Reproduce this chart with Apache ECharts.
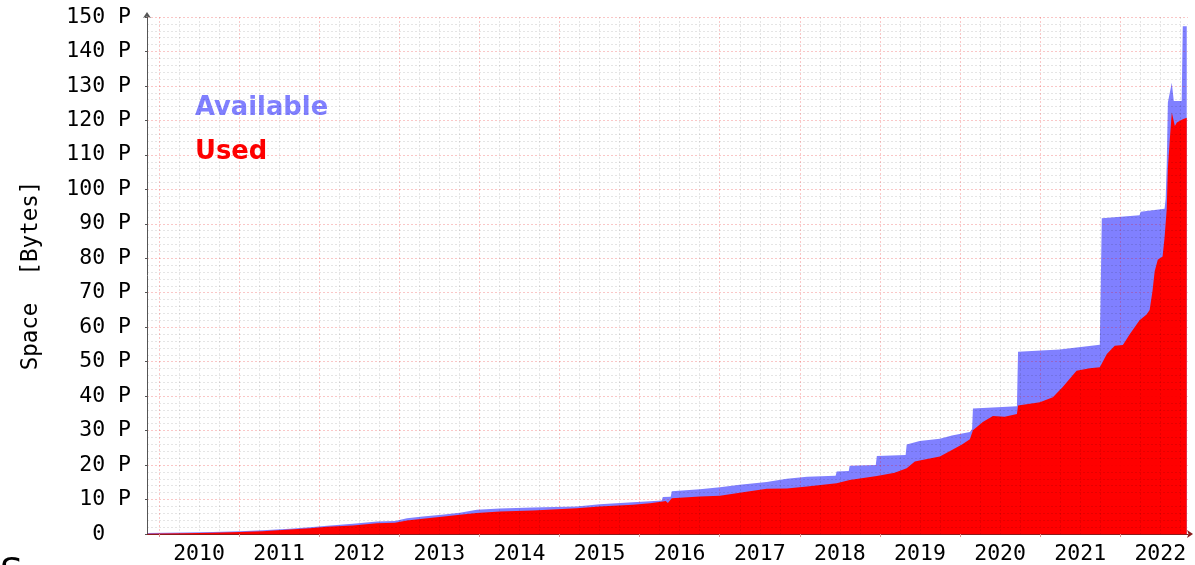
<!DOCTYPE html>
<html>
<head>
<meta charset="utf-8">
<script src="https://cdn.jsdelivr.net/npm/echarts@6/dist/echarts.min.js"></script>
<style>
  html, body { margin: 0; padding: 0; background: #fff; }
  #chart { width: 1195px; height: 565px; }
</style>
</head>
<body>
<div id="chart"></div>
<script>
// space in PB (jumps are given as a pair of close dates)
const availDates = [
  "2009-11-07", "2010-04-28", "2010-09-03", "2011-01-05", "2011-04-18", "2011-08-20",
  "2011-11-20", "2012-02-06", "2012-06-03", "2012-09-21", "2012-12-12", "2013-02-05",
  "2013-04-18", "2013-07-13", "2013-10-04", "2013-12-20", "2014-04-04", "2014-09-02",
  "2015-03-20", "2015-07-03", "2015-12-01", "2016-02-18", "2016-04-11", "2016-04-16",
  "2016-05-22", "2016-05-27", "2016-10-02", "2017-01-02", "2017-04-02", "2017-08-03",
  "2017-11-03", "2018-02-03", "2018-06-13", "2018-06-18", "2018-08-12", "2018-08-16",
  "2018-12-13", "2018-12-18", "2019-04-28", "2019-05-03", "2019-07-01", "2019-10-01",
  "2019-11-25", "2020-02-15", "2020-02-25", "2020-02-29", "2020-09-17", "2020-09-22",
  "2021-03-31", "2021-09-30", "2021-10-04", "2021-10-09", "2022-03-30", "2022-04-04",
  "2022-07-22", "2022-07-27", "2022-08-01", "2022-08-06", "2022-08-15", "2022-08-24",
  "2022-08-28", "2022-09-02", "2022-10-08", "2022-10-13", "2022-10-31"
];
const availValues = [
  0.3, 0.45, 0.6, 0.8, 1.1, 1.5,
  1.95, 2.4, 3.0, 3.6, 3.75, 4.6,
  5.1, 5.6, 6.2, 7.0, 7.4, 7.7,
  8.0, 8.6, 9.2, 9.5, 9.7, 10.7,
  10.8, 12.4, 13.0, 13.6, 14.3, 15.1,
  16.0, 16.6, 16.9, 18.1, 18.3, 19.8,
  20.0, 22.6, 22.9, 26.0, 27.0, 27.6,
  28.6, 29.6, 30.5, 36.4, 37.1, 52.9,
  53.5, 54.9, 55.0, 91.6, 92.5, 93.5,
  94.4, 97.3, 107.4, 125.2, 125.5, 130.9,
  131.4, 125.6, 125.6, 147.3, 147.3
];
const usedDates = [
  "2009-11-07", "2010-04-28", "2010-09-03", "2011-01-05", "2011-04-18", "2011-08-20",
  "2011-11-20", "2012-02-06", "2012-06-03", "2012-09-21", "2012-12-12", "2013-02-05",
  "2013-04-18", "2013-07-13", "2013-10-04", "2013-12-20", "2014-04-04", "2014-09-02",
  "2015-03-20", "2015-07-03", "2015-12-01", "2016-02-18", "2016-04-16", "2016-04-29",
  "2016-05-09", "2016-05-27", "2016-10-02", "2017-01-02", "2017-04-02", "2017-08-03",
  "2017-11-03", "2018-02-03", "2018-06-18", "2018-08-16", "2018-12-18", "2019-03-09",
  "2019-05-03", "2019-06-09", "2019-07-01", "2019-10-01", "2019-11-25", "2020-01-10",
  "2020-02-15", "2020-02-29", "2020-04-14", "2020-05-30", "2020-07-23", "2020-09-17",
  "2020-09-22", "2020-12-31", "2021-02-28", "2021-04-13", "2021-05-15", "2021-06-16",
  "2021-08-15", "2021-09-30", "2021-11-01", "2021-12-07", "2022-01-13", "2022-02-14",
  "2022-03-30", "2022-05-01", "2022-05-15", "2022-05-28", "2022-06-07", "2022-06-21",
  "2022-07-13", "2022-07-22", "2022-08-01", "2022-08-06", "2022-08-15", "2022-08-24",
  "2022-08-28", "2022-09-07", "2022-09-16", "2022-10-13", "2022-10-31"
];
const usedValues = [
  0.05, 0.2, 0.35, 0.55, 0.8, 1.3,
  1.7, 2.1, 2.5, 3.1, 3.3, 3.9,
  4.4, 5.0, 5.6, 6.1, 6.5, 6.8,
  7.5, 8.0, 8.5, 8.9, 9.4, 9.6,
  9.0, 10.4, 10.9, 11.1, 12.0, 13.1,
  13.2, 13.8, 14.7, 15.7, 16.8, 17.8,
  19.1, 21.0, 21.3, 22.5, 24.4, 26.0,
  27.5, 30.1, 32.5, 34.2, 34.0, 34.8,
  37.3, 38.2, 39.7, 42.6, 45.0, 47.4,
  48.1, 48.4, 52.2, 54.6, 54.8, 58.0,
  62.0, 63.7, 65.0, 70.5, 76.2, 79.6,
  80.5, 86.0, 94.4, 106.0, 114.6, 122.3,
  122.0, 118.4, 119.4, 120.3, 120.8
];
const years = [2010, 2011, 2012, 2013, 2014, 2015, 2016, 2017, 2018, 2019, 2020, 2021, 2022];

const xMin = 2009.85;
const xMax = 2022.846;

function decYear(s) {
  const p = s.split("-").map(Number);
  const t0 = Date.UTC(p[0], 0, 1);
  const t1 = Date.UTC(p[0] + 1, 0, 1);
  return p[0] + (Date.UTC(p[0], p[1] - 1, p[2]) - t0) / (t1 - t0);
}

const availData = availDates.map((d, i) => [decYear(d), availValues[i]]);
const usedData = usedDates.map((d, i) => [decYear(d), usedValues[i]]);

// label sits in the middle of each year, grid line on Jan 1
const midYears = years.map((y) => y + 0.5);
const quarters = [];
years.forEach((y) => {
  [0.25, 0.5, 0.75].forEach((q) => {
    if (y + q < xMax) quarters.push(y + q);
  });
});

const mono = "DejaVu Sans Mono";
const chart = echarts.init(document.getElementById("chart"));

chart.setOption({
  animation: false,
  backgroundColor: "#ffffff",
  grid: { left: 147, right: 7, top: 17, bottom: 27 },
  legend: {
    orient: "vertical",
    left: 185,
    top: 90,
    icon: "rect",
    itemWidth: 0,
    itemHeight: 0,
    itemGap: 18,
    selectedMode: false,
    textStyle: {
      fontFamily: "DejaVu Sans",
      fontWeight: "bold",
      fontSize: 25.8,
      lineHeight: 26,
    },
    data: [
      { name: "Available", textStyle: { color: "#8080ff" } },
      { name: "Used", textStyle: { color: "#ff0000" } },
    ],
  },
  xAxis: [
    {
      type: "value",
      min: xMin,
      max: xMax,
      z: 10,
      axisLine: {
        show: true,
        symbol: ["none", "arrow"],
        symbolSize: [6, 6],
        symbolOffset: [0, 5],
        lineStyle: { color: "#8b1a1a", width: 1.2 },
      },
      axisTick: {
        show: true,
        customValues: years,
        length: 3,
        lineStyle: { color: "#e09090" },
      },
      axisLabel: {
        customValues: midYears,
        formatter: (v) => String(Math.floor(v)),
        fontFamily: mono,
        fontSize: 21.5,
        color: "#000",
        margin: 9,
      },
      splitLine: {
        show: true,
        lineStyle: { color: "rgba(230,0,0,0.22)", type: [2, 2], width: 1 },
      },
    },
    {
      type: "value",
      min: xMin,
      max: xMax,
      z: 9,
      axisLine: { show: false },
      axisTick: { show: false, customValues: quarters },
      axisLabel: { show: false, customValues: quarters },
      splitLine: {
        show: true,
        lineStyle: { color: "rgba(0,0,0,0.10)", type: [2, 2], width: 1 },
      },
    },
  ],
  yAxis: {
    type: "value",
    min: 0,
    max: 150,
    interval: 10,
    z: 10,
    name: "Space  [Bytes]",
    nameLocation: "middle",
    nameRotate: 90,
    nameGap: 104,
    nameTextStyle: { fontFamily: mono, fontSize: 22.5, color: "#000" },
    axisLine: {
      show: true,
      symbol: ["none", "arrow"],
      symbolSize: [6, 6],
      symbolOffset: [0, 5],
      lineStyle: { color: "#555", width: 1 },
    },
    axisTick: { show: true, length: 2, lineStyle: { color: "#555" } },
    axisLabel: {
      formatter: (v) => (v === 0 ? "0  " : v + " P"),
      fontFamily: mono,
      fontSize: 21.5,
      color: "#000",
      margin: 16,
    },
    splitLine: {
      show: true,
      lineStyle: { color: "rgba(230,0,0,0.22)", type: [2, 2], width: 1 },
    },
    minorTick: { show: false, splitNumber: 5 },
    minorSplitLine: {
      show: true,
      lineStyle: { color: "rgba(0,0,0,0.10)", type: [2, 2], width: 1 },
    },
  },
  series: [
    {
      name: "Available",
      type: "line",
      data: availData,
      showSymbol: false,
      symbol: "none",
      lineStyle: { width: 0 },
      itemStyle: { color: "#8080ff" },
      areaStyle: { color: "#8080ff", opacity: 1 },
    },
    {
      name: "Used",
      type: "line",
      data: usedData,
      showSymbol: false,
      symbol: "none",
      lineStyle: { width: 0 },
      itemStyle: { color: "#ff0000" },
      areaStyle: { color: "#ff0000", opacity: 1 },
    },
  ],
  graphic: [
    {
      type: "text",
      left: 0,
      top: 556,
      style: { text: "S", font: "36px DejaVu Sans", fill: "#000" },
    },
  ],
});
</script>
</body>
</html>
